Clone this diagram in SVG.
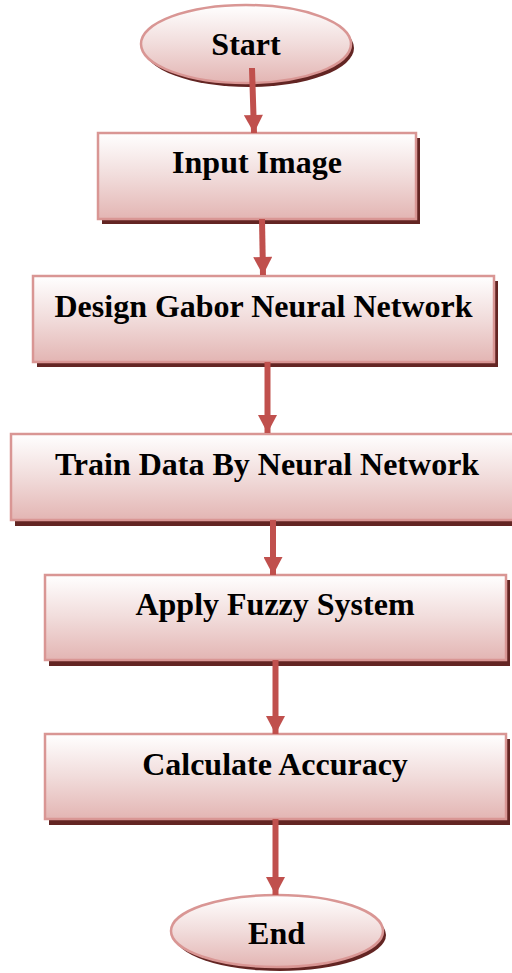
<svg xmlns="http://www.w3.org/2000/svg" width="512" height="973" viewBox="0 0 512 973">
<defs>
<linearGradient id="g" x1="0" y1="0" x2="0" y2="1">
<stop offset="0" stop-color="#FFFFFF"/>
<stop offset="0.5" stop-color="#F1DCDB"/>
<stop offset="1" stop-color="#E3B5B3"/>
</linearGradient>
<marker id="ah" markerUnits="userSpaceOnUse" markerWidth="20" markerHeight="19" refX="18" refY="9.5" orient="auto" viewBox="0 0 18 19">
<path d="M0,0 L18,9.5 L0,19 Z" fill="#C0504D"/>
</marker>
<style>
.sh{fill:#632523}
.bx{fill:url(#g);stroke:#D99694;stroke-width:2.5}
.t{font-family:"Liberation Serif","Times New Roman",serif;font-weight:bold;font-size:32px;fill:#000;text-anchor:middle}
.c{stroke:#C0504D;stroke-width:6;fill:none;marker-end:url(#ah)}
</style>
</defs>
<rect width="512" height="973" fill="#FFFFFF"/>
<g id="start">
<ellipse class="sh" cx="249" cy="48" rx="105" ry="39"/>
<ellipse class="bx" cx="246" cy="44" rx="105" ry="39"/>
<text class="t" x="246" y="55">Start</text>
</g>
<g id="input">
<rect class="sh" x="102" y="138" width="318" height="86"/>
<rect class="bx" x="98" y="133" width="318" height="86"/>
<text class="t" x="257" y="173">Input Image</text>
</g>
<g id="design">
<rect class="sh" x="37" y="281" width="461" height="86"/>
<rect class="bx" x="33" y="276" width="461" height="86"/>
<text class="t" x="263.5" y="317">Design Gabor Neural Network</text>
</g>
<g id="train">
<rect class="sh" x="15" y="439" width="514" height="87"/>
<rect class="bx" x="11" y="434" width="514" height="86"/>
<text class="t" x="267" y="475">Train Data By Neural Network</text>
</g>
<g id="fuzzy">
<rect class="sh" x="49" y="580" width="461" height="86"/>
<rect class="bx" x="45" y="575" width="461" height="85"/>
<text class="t" x="275" y="615">Apply Fuzzy System</text>
</g>
<g id="accuracy">
<rect class="sh" x="49" y="739" width="461" height="86"/>
<rect class="bx" x="45" y="734" width="461" height="85"/>
<text class="t" x="275" y="775">Calculate Accuracy</text>
</g>
<g id="end">
<ellipse class="sh" cx="280" cy="935" rx="106" ry="36"/>
<ellipse class="bx" cx="277" cy="931" rx="106" ry="36"/>
<text class="t" x="276.5" y="944">End</text>
</g>
<g id="connectors">
<path class="c" d="M252,68 L254,133"/>
<path class="c" d="M262,219 L263,275"/>
<path class="c" d="M267.5,362 L267.5,433"/>
<path class="c" d="M273,520 L273,575"/>
<path class="c" d="M275.5,660 L275.5,734"/>
<path class="c" d="M275.5,819 L275.5,895"/>
</g>
</svg>
